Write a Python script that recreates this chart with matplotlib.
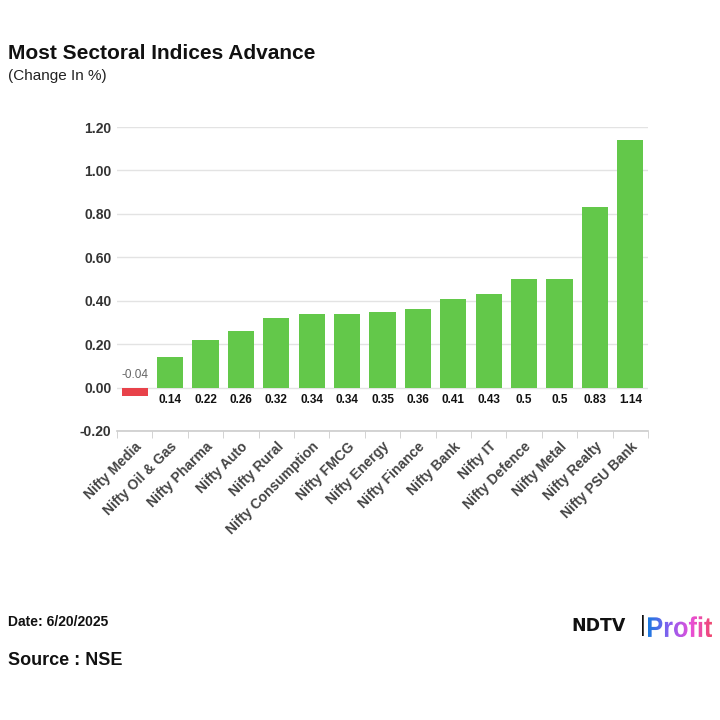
import matplotlib.pyplot as plt
import numpy as np
from matplotlib.textpath import TextPath
from matplotlib.patches import PathPatch
from matplotlib.font_manager import FontProperties
from matplotlib.colors import LinearSegmentedColormap

sectors = ["Nifty Media", "Nifty Oil & Gas", "Nifty Pharma", "Nifty Auto", "Nifty Rural",
           "Nifty Consumption", "Nifty FMCG", "Nifty Energy", "Nifty Finance", "Nifty Bank",
           "Nifty IT", "Nifty Defence", "Nifty Metal", "Nifty Realty", "Nifty PSU Bank"]
change = [-0.04, 0.14, 0.22, 0.26, 0.32, 0.34, 0.34, 0.35, 0.36, 0.41, 0.43, 0.5, 0.5, 0.83, 1.14]
value_labels = ["-0.04", "0.14", "0.22", "0.26", "0.32", "0.34", "0.34", "0.35", "0.36",
                "0.41", "0.43", "0.5", "0.5", "0.83", "1.14"]
yticks = [-0.2, 0.0, 0.2, 0.4, 0.6, 0.8, 1.0, 1.2]

plt.rcParams["font.family"] = ["Liberation Sans", "DejaVu Sans"]

fig = plt.figure(figsize=(7.2, 7.2), dpi=100)
ax = fig.add_axes([0.1625, 0.4014, 0.7375, 0.4222])

x = np.arange(len(sectors))
colors = ["#e8424a" if v < 0 else "#63c84a" for v in change]
ax.bar(x, change, width=0.74, color=colors, zorder=3)

for xi, v, lab in zip(x, change, value_labels):
    if v < 0:
        ax.text(xi, 0.03, lab, ha="center", va="bottom", fontsize=8.5, color="#666666")
    else:
        ax.text(xi, -0.03, lab, ha="center", va="top", fontsize=8.5,
                fontweight="bold", color="#111111")

ax.set_xlim(-0.5, len(sectors) - 0.5)
ax.set_ylim(-0.2, 1.2)
ax.set_yticks(yticks)
ax.set_yticklabels([f"{t:.2f}" for t in yticks], fontsize=10, fontweight="bold", color="#333333")
ax.set_xticks(x)
ax.set_xticklabels(sectors, rotation=45, ha="right", rotation_mode="anchor",
                   fontsize=10, fontweight="bold", color="#444444")
ax.set_xticks(np.arange(len(sectors) + 1) - 0.5, minor=True)
ax.tick_params(axis="x", which="major", length=0, pad=6)
ax.tick_params(axis="x", which="minor", length=5, color="#cccccc")
ax.tick_params(axis="y", length=0, pad=4)
ax.grid(axis="y", color="#e3e3e3", linewidth=1, zorder=0)
for s in ["top", "right", "left"]:
    ax.spines[s].set_visible(False)
ax.spines["bottom"].set_color("#cccccc")
ax.spines["bottom"].set_linewidth(1.2)

fig.text(0.011, 0.926, "Most Sectoral Indices Advance", fontsize=15, fontweight="bold",
         va="center", ha="left", color="#111111")
fig.text(0.011, 0.895, "(Change In %)", fontsize=11, va="center", ha="left", color="#222222")
fig.text(0.011, 0.136, "Date: 6/20/2025", fontsize=10, fontweight="bold", va="center", color="#111111")
fig.text(0.011, 0.082, "Source : NSE", fontsize=13, fontweight="bold", va="center", color="#111111")

# logo
fig.text(0.794, 0.131, "NDTV", fontsize=12.5, fontweight="bold", family="DejaVu Sans",
         va="center", ha="left", color="#111111")
fig.text(0.889, 0.131, "|", fontsize=16, va="center", ha="left", color="#111111")
lax = fig.add_axes([0.9, 0.115, 0.089, 0.029])
lax.set_axis_off()
tp = TextPath((0, 0), "Profit", size=10, prop=FontProperties(family="Liberation Sans", weight="bold"))
ext = tp.get_extents()
lax.set_xlim(ext.x0, ext.x1)
lax.set_ylim(ext.y0, ext.y1)
patch = PathPatch(tp, facecolor="none", edgecolor="none")
lax.add_patch(patch)
grad_cmap = LinearSegmentedColormap.from_list("logo", ["#1a7ae0", "#8a5ef0", "#e84fd8", "#f0486a"])
im = lax.imshow(np.linspace(0, 1, 256).reshape(1, -1), cmap=grad_cmap, aspect="auto",
                extent=[ext.x0, ext.x1, ext.y0, ext.y1])
im.set_clip_path(patch)

fig.savefig("out.png", dpi=100)
